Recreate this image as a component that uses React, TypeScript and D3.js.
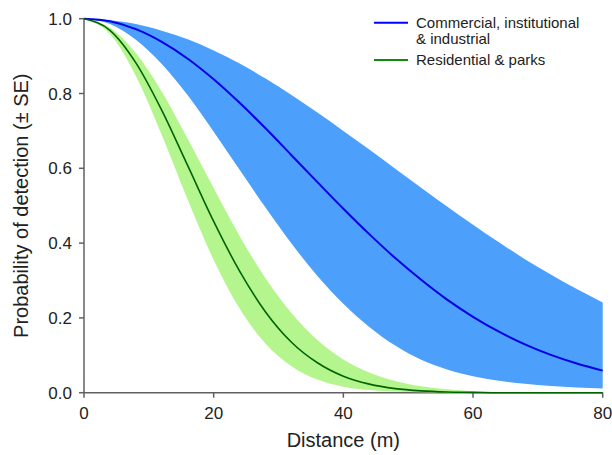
import * as d3 from "d3";
import React from "react";

const distance = [0, 4, 8, 12, 16, 20, 24, 28, 32, 36, 40, 44, 48, 52, 56, 60, 64, 68, 72, 76, 80];

// Commercial, institutional & industrial
const commFit = [1, 0.993, 0.972, 0.938, 0.893, 0.838, 0.775, 0.707, 0.635, 0.563, 0.492, 0.424, 0.36, 0.302, 0.249, 0.203, 0.163, 0.129, 0.101, 0.078, 0.059];
const commUpper = [1, 0.996, 0.986, 0.968, 0.945, 0.915, 0.88, 0.84, 0.796, 0.749, 0.7, 0.65, 0.599, 0.548, 0.498, 0.449, 0.402, 0.357, 0.316, 0.277, 0.241];
const commLower = [1, 0.986, 0.944, 0.879, 0.795, 0.698, 0.596, 0.495, 0.399, 0.312, 0.238, 0.176, 0.126, 0.088, 0.062, 0.044, 0.032, 0.024, 0.018, 0.014, 0.011];

// Residential & parks
const resFit = [1, 0.969, 0.882, 0.755, 0.607, 0.458, 0.325, 0.216, 0.135, 0.08, 0.044, 0.023, 0.011, 0.005, 0.002, 0.001, 0, 0, 0, 0, 0];
const resUpper = [1, 0.976, 0.908, 0.805, 0.679, 0.547, 0.419, 0.306, 0.213, 0.141, 0.089, 0.054, 0.031, 0.017, 0.009, 0.004, 0.002, 0.001, 0, 0, 0];
const resLower = [1, 0.959, 0.847, 0.689, 0.516, 0.355, 0.225, 0.131, 0.071, 0.035, 0.016, 0.007, 0.003, 0.001, 0, 0, 0, 0, 0, 0, 0];

const xTicks = [0, 20, 40, 60, 80];
const yTicks = [0, 0.2, 0.4, 0.6, 0.8, 1.0];

const legendItems = [
    { lines: ["Commercial, institutional", "& industrial"], color: "#0000ff" },
    { lines: ["Residential & parks"], color: "#128a12" },
];

const W = 612, H = 455;
const margin = { top: 18.7, right: 9.3, bottom: 62.3, left: 84 };

export default function App() {
    const x = d3.scaleLinear().domain([0, 80]).range([margin.left, W - margin.right]);
    const y = d3.scaleLinear().domain([0, 1]).range([H - margin.bottom, margin.top]);

    const band = (lo: number[], hi: number[]) =>
        d3.area<number>()
            .x((d, i) => x(distance[i]))
            .y0((d, i) => y(lo[i]))
            .y1((d, i) => y(hi[i]))
            .curve(d3.curveMonotoneX)(distance) || "";

    const line = (vals: number[]) =>
        d3.line<number>()
            .x((d, i) => x(distance[i]))
            .y((d, i) => y(vals[i]))
            .curve(d3.curveMonotoneX)(distance) || "";

    const fmt = d3.format(".1f");
    const axisColor = "#606060";
    const font = "'Liberation Sans', Arial, sans-serif";
    const x0 = x(0), y0 = y(0);

    return (
        <svg width={W} height={H} style={{ position: "absolute", left: 0, top: 0, background: "#fff" }}
             fontFamily={font}>
            {/* axes */}
            <line x1={x0} x2={x0} y1={y(1)} y2={y0} stroke={axisColor} strokeWidth={1.5} />
            <line x1={x0} x2={x(80)} y1={y0} y2={y0} stroke={axisColor} strokeWidth={1.5} />
            {yTicks.map(t => (
                <g key={"y" + t}>
                    <line x1={x0 - 5} x2={x0} y1={y(t)} y2={y(t)} stroke={axisColor} strokeWidth={1.5} />
                    <text x={x0 - 12} y={y(t)} dy="0.36em" textAnchor="end" fontSize={17} fill="#222">{fmt(t)}</text>
                </g>
            ))}
            {xTicks.map(t => (
                <g key={"x" + t}>
                    <line x1={x(t)} x2={x(t)} y1={y0} y2={y0 + 5} stroke={axisColor} strokeWidth={1.5} />
                    <text x={x(t)} y={y0 + 26} textAnchor="middle" fontSize={17} fill="#222">{t}</text>
                </g>
            ))}
            <text x={x(40)} y={447} textAnchor="middle" fontSize={20} fill="#222">Distance (m)</text>
            <text transform={`translate(27.6, ${(y(0) + y(1)) / 2}) rotate(-90)`} textAnchor="middle"
                  fontSize={20} fill="#222">Probability of detection (± SE)</text>

            {/* SE bands */}
            <path d={band(commLower, commUpper)} fill="#4ca0fb" />
            <path d={band(resLower, resUpper)} fill="#b5f58e" />

            {/* fitted detection functions */}
            <path d={line(commFit)} fill="none" stroke="#0000e6" strokeWidth={2} />
            <path d={line(resFit)} fill="none" stroke="#006400" strokeWidth={1.6} />

            {/* legend */}
            {legendItems.map((item, i) => {
                const cy = i === 0 ? 22.7 : 60;
                return (
                    <g key={i}>
                        <line x1={374} x2={408} y1={cy} y2={cy} stroke={item.color} strokeWidth={2} />
                        {item.lines.map((s, j) => (
                            <text key={j} x={416} y={cy + 5.3 + j * 16} fontSize={15} fill="#222">{s}</text>
                        ))}
                    </g>
                );
            })}
        </svg>
    );
}
